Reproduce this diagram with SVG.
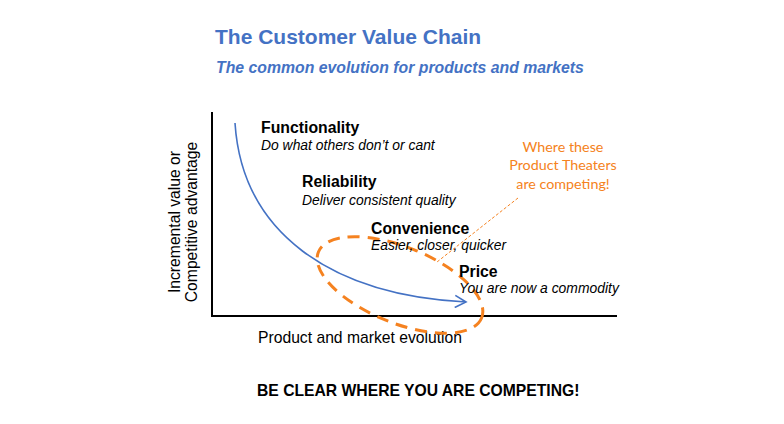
<svg xmlns="http://www.w3.org/2000/svg" width="784" height="424" viewBox="0 0 784 424">
<style>
.t{font-family:"Liberation Sans",Arial,sans-serif;fill:#000}
.b{font-weight:bold}
.i{font-style:italic}
.blue{fill:#4472C4}
.or{font-family:Lato,"Open Sans",sans-serif;fill:#F58220;font-size:14.3px}
</style>
<defs>
<marker id="arr" markerWidth="14" markerHeight="14" refX="12" refY="6.5" orient="auto" markerUnits="userSpaceOnUse" viewBox="0 0 14 13">
<path d="M1,0.5 L12,6.5 L1,12.5" fill="none" stroke="#4472C4" stroke-width="1.6"/>
</marker>
</defs>
<rect width="784" height="424" fill="#fff"/>
<g id="title">
<text class="t b blue" x="215" y="44" font-size="21">The Customer Value Chain</text>
<text class="t b i blue" x="216" y="73" font-size="15.8">The common evolution for products and markets</text>
</g>
<g id="axes">
<line x1="212" y1="112" x2="212" y2="316" stroke="#000" stroke-width="2"/>
<line x1="211" y1="316" x2="617" y2="316" stroke="#000" stroke-width="2"/>
<text class="t" font-size="15.7" text-anchor="middle" transform="translate(180,222) rotate(-90)">Incremental value or</text>
<text class="t" font-size="15.7" text-anchor="middle" transform="translate(197,222) rotate(-90)">Competitive advantage</text>
<text class="t" x="258" y="343" font-size="15.7">Product and market evolution</text>
</g>
<g id="connectors">
<path d="M235,123 C242,232 330,295 466,302" fill="none" stroke="#4472C4" stroke-width="1.6" marker-end="url(#arr)"/>
<line x1="518" y1="198" x2="437" y2="262" stroke="#F58220" stroke-width="1" stroke-dasharray="3 2"/>
</g>
<g id="ellipse">
<ellipse cx="400" cy="285" rx="88" ry="38" transform="rotate(22 400 285)" fill="none" stroke="#F58220" stroke-width="3" stroke-dasharray="12 8"/>
</g>
<g id="functionality">
<text class="t b" x="261" y="133" font-size="15.8">Functionality</text>
<text class="t i" x="261" y="150" font-size="13.9">Do what others don’t or cant</text>
</g>
<g id="reliability">
<text class="t b" x="302" y="187" font-size="15.8">Reliability</text>
<text class="t i" x="302" y="205" font-size="13.9">Deliver consistent quality</text>
</g>
<g id="convenience">
<text class="t b" x="371" y="234" font-size="15.8">Convenience</text>
<text class="t i" x="371" y="250" font-size="13.9">Easier, closer, quicker</text>
</g>
<g id="price">
<text class="t b" x="459" y="277" font-size="15.8">Price</text>
<text class="t i" x="459" y="293" font-size="13.9">You are now a commodity</text>
</g>
<g id="note">
<text class="or" x="563" y="152" text-anchor="middle">Where these</text>
<text class="or" x="563" y="170" text-anchor="middle">Product Theaters</text>
<text class="or" x="563" y="189" text-anchor="middle">are competing!</text>
</g>
<g id="footer">
<text class="t b" x="257" y="396" font-size="15.7">BE CLEAR WHERE YOU ARE COMPETING!</text>
</g>
</svg>
